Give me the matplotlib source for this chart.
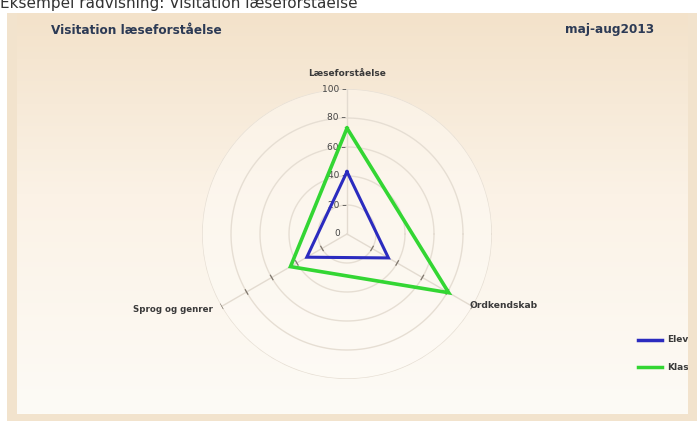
import numpy as np
import matplotlib
matplotlib.use('Agg')
import matplotlib.pyplot as plt
from matplotlib.patches import Rectangle

# data
categories = ['Læseforståelse', 'Ordkendskab', 'Sprog og genrer']
angles_deg = [90, -30, 210]
series_names = ['Elev', 'Klasse']
elev = [43, 33, 32]
klasse = [73, 81, 45]
r_ticks = [0, 20, 40, 60, 80, 100]

W, H = 697, 421
fig = plt.figure(figsize=(W / 100, H / 100), dpi=100)
fig.patch.set_facecolor('white')

# background in pixel coordinates
bg = fig.add_axes([0, 0, 1, 1])
bg.set_xlim(0, W)
bg.set_ylim(H, 0)
bg.axis('off')

top_c = np.array([0xf3, 0xe2, 0xca]) / 255
mid_c = np.array([0xfb, 0xf2, 0xe6]) / 255
bot_c = np.array([0xfd, 0xfb, 0xf6]) / 255
t = np.linspace(0, 1, 256)[:, None]
grad = np.where(t < 0.45,
                top_c + (mid_c - top_c) * (t / 0.45),
                mid_c + (bot_c - mid_c) * ((t - 0.45) / 0.55))
bg.imshow(grad[:, None, :].repeat(2, axis=1), extent=[7, 697, 414, 13],
          aspect='auto', zorder=0)

bg.text(0, 8, 'Eksempel rådvisning: Visitation læseforståelse', fontsize=11,
        color='#333333', ha='left', va='baseline', family='DejaVu Sans')

bg.text(51, 30, 'Visitation læseforståelse', fontsize=8.7, fontweight='bold',
        color='#2c3a55', ha='left', va='center', family='DejaVu Sans')
bg.text(654, 30, 'maj-aug2013', fontsize=8.7, fontweight='bold',
        color='#2c3a55', ha='right', va='center', family='DejaVu Sans')

# polar chart
cx, cy, R = 347, 234, 145
ax = fig.add_axes([(cx - R) / W, (H - cy - R) / H, 2 * R / W, 2 * R / H],
                  projection='polar')
ax.set_facecolor((1, 0.99, 0.97, 0.45))
ax.spines['polar'].set_visible(False)
ax.set_ylim(0, 100)
ax.set_xticks([])
ax.set_yticks([])
ax.grid(False)

th = np.linspace(0, 2 * np.pi, 300)
for v in r_ticks[1:]:
    ax.plot(th, np.full_like(th, v), color='#e6ded3', lw=1.0, zorder=1)
for a in angles_deg:
    ax.plot([np.radians(a)] * 2, [0, 100], color='#e3dbd0', lw=1.0, zorder=1)

# small ticks on the two lower axes
for a in angles_deg[1:]:
    for v in r_ticks[1:]:
        d = 2.5 / (v * R / 100)
        ax.plot([np.radians(a) - d, np.radians(a) + d], [v, v],
                color='#7f776d', lw=0.9, zorder=2)

# radial tick labels on the top axis
for v in r_ticks:
    if v == 0:
        ax.annotate('0', (np.radians(90), 0), xytext=(-7, 0),
                    textcoords='offset points', ha='center', va='center',
                    fontsize=6.5, color='#444444')
    else:
        ax.annotate(f'{v} \u2013', (np.radians(90), v), xytext=(-0.5, 0),
                    textcoords='offset points', ha='right', va='center',
                    fontsize=6.5, color='#444444')

# category labels
ax.annotate(categories[0], (np.radians(90), 100), xytext=(0, 11),
            textcoords='offset points', ha='center', va='center',
            fontsize=6.5, fontweight='bold', color='#3a3a3a')
ax.annotate(categories[1], (np.radians(-30), 100), xytext=(-2, 1),
            textcoords='offset points', ha='left', va='center',
            fontsize=6.6, fontweight='bold', color='#3a3a3a')
ax.annotate(categories[2], (np.radians(210), 100), xytext=(-6, -2),
            textcoords='offset points', ha='right', va='center',
            fontsize=6.2, fontweight='bold', color='#3a3a3a')

colors = ['#2b2bbf', '#33d633']
widths = [2.2, 2.6]
for vals, c, lw in zip([elev, klasse], colors, widths):
    th_s = np.radians(angles_deg + angles_deg[:1])
    ax.plot(th_s, vals + vals[:1], color=c, lw=lw, zorder=5,
            solid_joinstyle='miter')

# legend drawn on the background axes
leg_y = [340, 367]
for name, c, y in zip(series_names, colors, leg_y):
    bg.plot([638, 662], [y, y], color=c, lw=2.5, zorder=3)
    bg.text(667, y, name, fontsize=6.5, fontweight='bold', color='#3a3a3a',
            ha='left', va='center', zorder=3)

# outer frame drawn on top
fr = fig.add_axes([0, 0, 1, 1], zorder=10)
fr.set_xlim(0, W)
fr.set_ylim(H, 0)
fr.axis('off')
fr.patch.set_alpha(0)
frame_c = '#f2e3cd'
fr.add_patch(Rectangle((688, 13), 9, 408, color=frame_c, lw=0))
fr.add_patch(Rectangle((7, 13), 10, 408, color=frame_c, lw=0))
fr.add_patch(Rectangle((7, 414), 690, 7, color=frame_c, lw=0))

fig.savefig('out.png', dpi=100)
